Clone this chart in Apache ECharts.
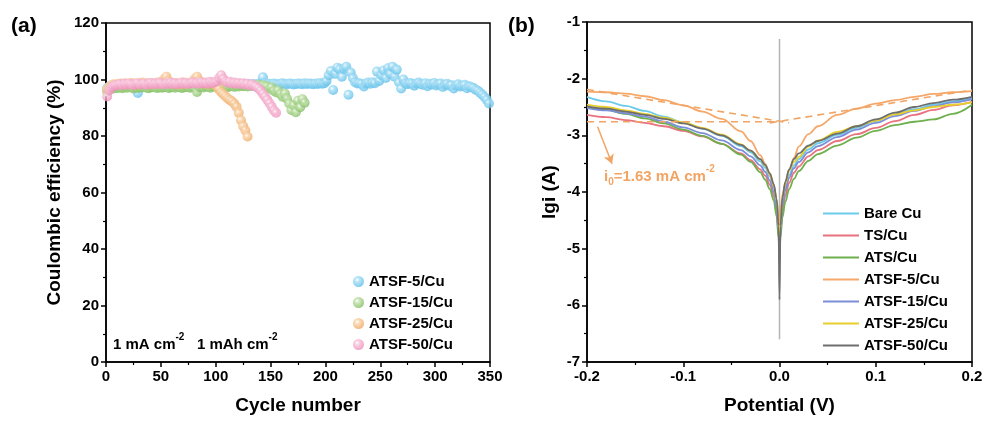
<!DOCTYPE html>
<html><head><meta charset="utf-8">
<script src="https://cdn.jsdelivr.net/npm/echarts@6/dist/echarts.min.js"></script>
<style>html,body{margin:0;padding:0;background:#fff}#c{width:987px;height:422px}</style>
</head><body><div id="c"></div>
<script>
// ---------- Panel (a): Coulombic efficiency, one value every 2 cycles starting at cycle 1 ----------
const cycleStart = 1;
const cycleStep = 2;
const ceATSF5 = [
 97.0,97.5,97.8,98.0,97.9,98.1,98.0,97.8,98.2,98.0,97.9,98.1,98.0,97.6,
 95.2,
 98.0,98.2,97.9,98.1,98.3,98.0,98.2,98.1,97.9,98.2,98.4,98.1,98.0,98.3,98.2,97.9,98.1,98.3,98.0,98.2,98.1,98.4,98.0,98.2,98.3,98.1,97.9,98.2,98.0,98.3,98.1,98.2,98.0,98.4,98.2,
 98.3,98.1,98.4,98.2,98.0,98.3,98.5,98.2,98.1,98.4,98.3,98.0,98.2,98.5,98.3,98.1,98.4,98.2,98.3,98.5,98.2,
 100.8,98.6,98.4,
 98.5,98.3,98.6,98.4,98.2,98.5,98.7,98.4,98.3,98.6,98.5,98.2,98.4,98.6,98.5,98.3,98.7,98.4,98.6,98.5,98.3,98.6,98.4,98.8,98.5,98.7,
 99.5,101.5,103.0,96.3,102.0,104.2,103.5,101.0,103.8,104.5,94.6,102.5,100.5,99.0,98.6,
 98.7,98.4,97.5,98.6,98.9,98.5,99.0,98.7,
 102.8,99.5,101.5,103.2,100.5,104.0,102.0,104.5,101.0,103.5,99.0,96.8,100.0,
 98.6,98.3,98.8,98.5,97.8,98.6,98.9,98.4,98.1,98.7,97.6,98.5,98.2,98.8,97.9,98.3,98.6,97.4,98.2,98.5,97.8,98.0,96.8,97.9,98.3,97.5,97.8,98.1,96.9,97.6,97.3,
 97.0,96.4,96.0,95.3,94.6,93.8,92.8,91.5
];
const ceATSF15 = [
 95.8,96.5,97.0,96.8,97.2,
 97.0,97.3,96.9,97.4,97.1,97.5,97.2,96.8,97.3,97.0,97.4,97.2,97.5,97.1,96.9,97.3,97.6,97.2,97.0,97.4,97.1,97.3,97.5,97.0,97.2,97.4,97.1,97.6,97.3,97.0,97.2,97.5,97.3,97.1,97.4,97.2,
 95.6,
 97.3,97.5,97.2,97.6,97.4,97.1,97.5,97.7,97.3,97.6,97.4,97.8,97.5,97.3,97.6,97.8,97.4,97.7,97.5,97.9,97.6,97.8,97.5,98.0,97.7,97.9,97.6,98.1,97.8,98.0,97.7,
 97.5,96.8,97.2,96.0,95.5,96.2,94.8,93.9,95.0,93.2,91.5,89.2,90.8,88.4,92.5,90.2,93.0,91.8
];
const ceATSF25 = [
 96.5,97.4,98.0,98.3,98.1,
 98.4,98.6,98.2,98.7,98.5,98.3,98.8,98.5,98.6,98.2,98.7,98.9,98.4,98.6,98.8,98.3,98.7,98.5,98.9,98.6,99.2,100.2,101.0,99.5,98.7,98.4,98.8,98.5,98.2,98.7,98.9,98.4,98.6,98.8,99.3,100.3,101.0,99.6,98.8,98.5,98.7,98.4,98.9,98.6,98.2,
 97.5,96.5,95.5,94.8,94.0,93.3,92.7,92.2,91.4,90.3,88.2,85.6,83.5,82.0,79.8
];
const ceATSF50 = [
 94.0,96.2,97.3,97.8,98.0,
 98.1,98.4,98.0,98.5,98.2,98.6,98.3,98.0,98.5,98.7,98.2,98.4,98.6,98.1,98.5,98.8,98.3,98.6,98.4,98.9,98.5,98.2,98.7,98.5,98.9,98.4,98.7,98.3,98.6,98.9,98.5,98.8,98.4,98.7,99.0,98.6,98.8,98.5,99.1,98.7,98.9,98.6,99.2,98.8,99.0,
 99.4,100.5,101.5,100.2,99.3,98.9,99.2,98.6,98.9,98.5,98.8,98.4,98.7,98.2,98.5,97.9,98.3,97.8,97.4,96.8,
 96.0,95.0,93.9,92.8,91.6,90.3,89.0,88.2
];
const ceNames = ['ATSF-5/Cu','ATSF-15/Cu','ATSF-25/Cu','ATSF-50/Cu'];

// ---------- Panel (b): Tafel curves ----------
const potential = [-0.2,-0.18,-0.16,-0.14,-0.12,-0.1,-0.08,-0.06,-0.04,-0.03,-0.02,-0.015,-0.01,-0.006,-0.003,-0.001,0,0.001,0.003,0.006,0.01,0.015,0.02,0.03,0.04,0.06,0.08,0.1,0.12,0.14,0.16,0.18,0.2];
const lgiBareCu = [-2.32,-2.40,-2.48,-2.57,-2.67,-2.77,-2.88,-3.01,-3.19,-3.30,-3.46,-3.57,-3.72,-3.92,-4.20,-4.60,-4.95,-4.60,-4.20,-3.92,-3.70,-3.53,-3.42,-3.25,-3.14,-2.99,-2.87,-2.75,-2.63,-2.54,-2.46,-2.40,-2.34];
const lgiTS = [-2.64,-2.68,-2.73,-2.78,-2.84,-2.92,-3.02,-3.15,-3.32,-3.44,-3.60,-3.71,-3.87,-4.07,-4.35,-4.75,-5.00,-4.75,-4.35,-4.07,-3.84,-3.66,-3.55,-3.37,-3.26,-3.10,-2.98,-2.87,-2.75,-2.64,-2.55,-2.47,-2.41];
const lgiATS = [-2.50,-2.55,-2.62,-2.70,-2.79,-2.90,-3.01,-3.15,-3.34,-3.47,-3.65,-3.78,-3.95,-4.15,-4.43,-4.80,-5.05,-4.80,-4.45,-4.18,-3.95,-3.77,-3.63,-3.45,-3.33,-3.18,-3.04,-2.92,-2.82,-2.76,-2.72,-2.62,-2.46];
const lgiATSF5 = [-2.23,-2.24,-2.265,-2.31,-2.38,-2.47,-2.58,-2.71,-2.93,-3.10,-3.35,-3.50,-3.70,-3.90,-4.14,-4.40,-4.60,-4.35,-4.05,-3.88,-3.62,-3.40,-3.20,-2.98,-2.84,-2.64,-2.53,-2.44,-2.38,-2.32,-2.27,-2.24,-2.22];
const lgiATSF15 = [-2.52,-2.56,-2.61,-2.67,-2.76,-2.86,-2.96,-3.09,-3.26,-3.37,-3.53,-3.64,-3.80,-4.00,-4.28,-4.70,-5.25,-4.70,-4.25,-3.98,-3.75,-3.58,-3.47,-3.30,-3.19,-3.03,-2.90,-2.78,-2.66,-2.57,-2.49,-2.42,-2.36];
const lgiATSF25 = [-2.46,-2.50,-2.56,-2.62,-2.69,-2.77,-2.87,-2.99,-3.16,-3.27,-3.42,-3.53,-3.68,-3.88,-4.15,-4.55,-5.20,-4.55,-4.10,-3.85,-3.62,-3.47,-3.38,-3.20,-3.09,-2.94,-2.84,-2.74,-2.63,-2.56,-2.50,-2.46,-2.42];
const lgiATSF50 = [-2.49,-2.53,-2.58,-2.64,-2.71,-2.79,-2.88,-3.00,-3.17,-3.27,-3.42,-3.52,-3.67,-3.86,-4.12,-4.60,-5.90,-4.60,-4.10,-3.82,-3.60,-3.42,-3.32,-3.18,-3.10,-2.97,-2.84,-2.72,-2.60,-2.50,-2.43,-2.37,-2.32];
const tafelNames = ['Bare Cu','TS/Cu','ATS/Cu','ATSF-5/Cu','ATSF-15/Cu','ATSF-25/Cu','ATSF-50/Cu'];
// Tafel extrapolation (dashed) and zero-potential guide
const cathodicFitV = [-0.2, 0.01];   const cathodicFitLgi = [-2.19, -2.78];
const anodicFitV = [-0.01, 0.2];     const anodicFitLgi = [-2.78, -2.20];
const i0LevelV = [-0.2, 0];          const i0LevelLgi = [-2.76, -2.76];
const zeroGuideV = [0, 0];           const zeroGuideLgi = [-1.3, -6.6];
const arrowFrom = [-0.189, -2.85];   const arrowTo = [-0.174, -3.50];

// ---------- build ----------
const FONT = '"Liberation Sans", Arial, sans-serif';
const ORANGE = '#f2a464';
const B = 'b\u00a7'; // internal prefix so panel-(b) legend names differ from panel-(a) names
function sphere(light, base) {
  return {type:'radial', x:0.38, y:0.35, r:0.7,
    colorStops:[{offset:0,color:'#ffffff'},{offset:0.3,color:light},{offset:1,color:base}]};
}
function cyclePairs(arr){ return arr.map((v,i)=>[cycleStart + cycleStep*i, v]); }
function zip(xs, ys){ return xs.map((x,i)=>[x, ys[i]]); }

const ceData = [ceATSF5, ceATSF15, ceATSF25, ceATSF50];
const ceColors = [sphere('#a6def5','#5bbde8'), sphere('#bfe0a8','#7dbb5c'), sphere('#f9d2a8','#eea45c'), sphere('#f8c2da','#ec8cb8')];
const tafelData = [lgiBareCu, lgiTS, lgiATS, lgiATSF5, lgiATSF15, lgiATSF25, lgiATSF50];
const tafelColors = ['#6ccbea','#e8727e','#6db04c','#f5a86a','#7c8ed8','#e8d02c','#6e6e6e'];

function axisCommon(){
  return {
    axisLine:{show:true, onZero:false, lineStyle:{color:'#000', width:1.5}},
    axisTick:{show:true, length:5, lineStyle:{color:'#000', width:1.5}},
    minorTick:{show:true, splitNumber:2, length:3, lineStyle:{color:'#000', width:1.2}},
    splitLine:{show:false},
    axisLabel:{color:'#000', fontWeight:'bold', fontSize:15, fontFamily:FONT, margin:7},
    nameLocation:'middle',
    nameTextStyle:{color:'#000', fontWeight:'bold', fontSize:19, fontFamily:FONT}
  };
}

const series = [];
ceData.forEach((arr,k)=>{
  series.push({type:'scatter', name:ceNames[k], xAxisIndex:0, yAxisIndex:0,
    data:cyclePairs(arr), symbolSize:10, itemStyle:{color:ceColors[k]}, z:2+k});
});
series.push({type:'line', name:'guide', xAxisIndex:1, yAxisIndex:1, data:zip(zeroGuideV, zeroGuideLgi),
  symbol:'none', lineStyle:{color:'#b5b5b5', width:1.5}, z:1, silent:true});
tafelData.forEach((arr,k)=>{
  series.push({type:'line', name:B+tafelNames[k], xAxisIndex:1, yAxisIndex:1,
    data:zip(potential, arr), symbol:'none', smooth:0.35, smoothMonotone:'x',
    lineStyle:{color:tafelColors[k], width:1.8}, itemStyle:{color:tafelColors[k]}, z:3});
});
const dashStyle = {color:ORANGE, width:1.6, type:[7,5]};
series.push({type:'line', name:'fitC', xAxisIndex:1, yAxisIndex:1, data:zip(cathodicFitV, cathodicFitLgi), symbol:'none', lineStyle:dashStyle, z:4, silent:true});
series.push({type:'line', name:'fitA', xAxisIndex:1, yAxisIndex:1, data:zip(anodicFitV, anodicFitLgi), symbol:'none', lineStyle:dashStyle, z:4, silent:true});
series.push({type:'line', name:'i0', xAxisIndex:1, yAxisIndex:1, data:zip(i0LevelV, i0LevelLgi), symbol:'none', lineStyle:dashStyle, z:4, silent:true,
  markLine:{silent:true, symbol:['none','arrow'], symbolSize:[8,9], label:{show:false},
    lineStyle:{color:ORANGE, width:1.5, type:'solid'},
    data:[[{coord:arrowFrom},{coord:arrowTo}]]}});

const rich = {
  n:{fontSize:15, fontWeight:'bold', fontFamily:FONT, lineHeight:20, verticalAlign:'bottom'},
  s:{fontSize:10, fontWeight:'bold', fontFamily:FONT, lineHeight:20, verticalAlign:'top'},
  b:{fontSize:10, fontWeight:'bold', fontFamily:FONT, lineHeight:20, verticalAlign:'bottom', padding:[0,0,-3,0]}
};

const option = {
  backgroundColor:'#fff',
  animation:false,
  textStyle:{fontFamily:FONT},
  title:[
    {text:'(a)', left:11, top:16, padding:0, textStyle:{fontSize:21, fontWeight:'bold', color:'#000', fontFamily:FONT}},
    {text:'(b)', left:508, top:16, padding:0, textStyle:{fontSize:21, fontWeight:'bold', color:'#000', fontFamily:FONT}},
    {text:'{n|1 mA cm}{s|-2}{n|   1 mAh cm}{s|-2}', left:113, top:332, padding:0,
      textStyle:{color:'#000', rich:rich}},
    {text:'{n|i}{b|0}{n|=1.63 mA cm}{s|-2}', left:604, top:164, padding:0,
      textStyle:{color:ORANGE, rich:rich}}
  ],
  legend:[
    {data:ceNames, orient:'vertical', left:348, top:269, itemWidth:11, itemHeight:11, itemGap:6,
      icon:'circle', textStyle:{color:'#000', fontWeight:'bold', fontSize:15, fontFamily:FONT}},
    {data:tafelNames.map(n=>B+n), formatter:(n)=>n.slice(B.length), orient:'vertical', left:818, top:201,
      icon:'rect', itemWidth:36, itemHeight:2, itemGap:7,
      textStyle:{color:'#000', fontWeight:'bold', fontSize:15, fontFamily:FONT, lineHeight:15}}
  ],
  grid:[
    {left:106, right:497, top:23, bottom:60, show:true, borderColor:'#000', borderWidth:1.5},
    {left:587, right:15, top:22, bottom:60, show:true, borderColor:'#000', borderWidth:1.5}
  ],
  xAxis:[
    Object.assign(axisCommon(), {gridIndex:0, type:'value', min:0, max:350, interval:50, name:'Cycle number', nameGap:34}),
    Object.assign(axisCommon(), {gridIndex:1, type:'value', min:-0.2, max:0.2, interval:0.1, name:'Potential (V)', nameGap:34,
      axisLabel:Object.assign(axisCommon().axisLabel, {formatter:(v)=>v.toFixed(1)})})
  ],
  yAxis:[
    Object.assign(axisCommon(), {gridIndex:0, type:'value', min:0, max:120, interval:20, name:'Coulombic efficiency (%)', nameGap:42}),
    Object.assign(axisCommon(), {gridIndex:1, type:'value', min:-7, max:-1, interval:1, name:'lgi (A)', nameGap:28})
  ],
  series:series
};
const chart = echarts.init(document.getElementById('c'), null, {renderer:'canvas'});
chart.setOption(option);
</script>
</body></html>
